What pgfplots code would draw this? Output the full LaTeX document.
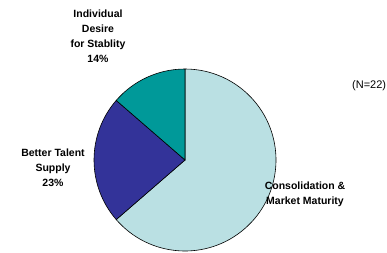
\documentclass[border=0pt]{standalone}
\usepackage{pgfplots}
\usepackage{pgfplotstable}
\pgfplotsset{compat=1.18}
\usepackage{fontspec}
\setmainfont{Liberation Sans}
\definecolor{sliceA}{HTML}{009999}
\definecolor{sliceB}{HTML}{333399}
\definecolor{sliceC}{HTML}{BAE0E3}
\pgfplotstableread{
label value
Stability 3
Talent 5
Consolidation 14
}\piedata
\begin{document}
\begin{tikzpicture}
\pgfplotstablegetelem{0}{value}\of\piedata \let\pieVa\pgfplotsretval
\pgfplotstablegetelem{1}{value}\of\piedata \let\pieVb\pgfplotsretval
\pgfplotstablegetelem{2}{value}\of\piedata \let\pieVc\pgfplotsretval
\pgfmathsetmacro{\pieTot}{\pieVa+\pieVb+\pieVc}
\pgfmathsetmacro{\pieAa}{90}
\pgfmathsetmacro{\pieAb}{90+360*\pieVa/\pieTot}
\pgfmathsetmacro{\pieAc}{\pieAb+360*\pieVb/\pieTot}
\pgfmathsetmacro{\pieAd}{450}
\useasboundingbox (0,0) rectangle (387pt,252pt);
\clip (0,0) rectangle (387pt,252pt);
\begin{axis}[at={(0,0)}, anchor=south west, x=1pt, y=1pt,
  xmin=0, xmax=387, ymin=0, ymax=252, hide axis, clip=false]
\draw[fill=sliceC, draw=black, line width=0.6pt] (axis cs:185,92) -- ++(\pieAc:91pt) arc[start angle=\pieAc, end angle=\pieAd, radius=91pt] -- cycle;
\draw[fill=sliceB, draw=black, line width=0.6pt] (axis cs:185,92) -- ++(\pieAb:91pt) arc[start angle=\pieAb, end angle=\pieAc, radius=91pt] -- cycle;
\draw[fill=sliceA, draw=black, line width=0.6pt] (axis cs:185,92) -- ++(\pieAa:91pt) arc[start angle=\pieAa, end angle=\pieAb, radius=91pt] -- cycle;
\node[align=center, font=\bfseries\fontsize{10.5}{15}\selectfont] at (axis cs:98,215.5) {Individual\\Desire\\for Stablity\\14\%};
\node[align=center, font=\bfseries\fontsize{10.5}{15}\selectfont] at (axis cs:53,84) {Better Talent\\Supply\\23\%};
\node[align=center, font=\bfseries\fontsize{10.5}{15}\selectfont] at (axis cs:305,57.5) {Consolidation \&\\Market Maturity};
\node[anchor=west, inner sep=0pt, font=\fontsize{11}{13}\selectfont] at (axis cs:352,166) {(N=22)};
\end{axis}
\end{tikzpicture}
\end{document}
